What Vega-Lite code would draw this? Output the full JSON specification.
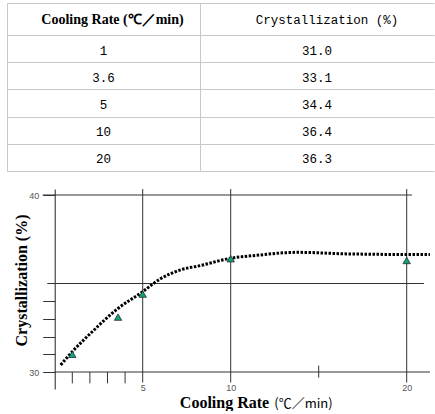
{
  "$schema": "https://vega.github.io/schema/vega-lite/v6.json",
  "background": "white",
  "padding": {"left": 7, "top": 3, "right": 0, "bottom": 0},
  "datasets": {
    "pts": [
      {"rate": 1, "cryst": 31.0},
      {"rate": 3.6, "cryst": 33.1},
      {"rate": 5, "cryst": 34.4},
      {"rate": 10, "cryst": 36.4},
      {"rate": 20, "cryst": 36.3}
    ],
    "curve": [
      {"x": 0.34, "y": 30.40},
      {"x": 1.0, "y": 31.15},
      {"x": 2.19, "y": 32.33},
      {"x": 3.48, "y": 33.50},
      {"x": 5.0, "y": 34.54},
      {"x": 5.98, "y": 35.25},
      {"x": 7.12, "y": 35.76},
      {"x": 8.26, "y": 36.01},
      {"x": 9.97, "y": 36.42},
      {"x": 11.66, "y": 36.61},
      {"x": 12.8, "y": 36.72},
      {"x": 13.82, "y": 36.76},
      {"x": 16.78, "y": 36.67},
      {"x": 20.0, "y": 36.64},
      {"x": 21.32, "y": 36.64}
    ],
    "lines": [
      {"x": 0, "x2": 21.32, "y": 30, "y2": 30},
      {"x": -0.68, "x2": 20.3, "y": 40, "y2": 40},
      {"x": -0.42, "x2": 20.98, "y": 35, "y2": 35},
      {"x": 5, "x2": 5, "y": 29.4, "y2": 40.34},
      {"x": 10, "x2": 10, "y": 29.4, "y2": 40.34},
      {"x": 20, "x2": 20, "y": 29.4, "y2": 40.34},
      {"x": 15, "x2": 15, "y": 29.68, "y2": 30.36},
      {"x": 1, "x2": 1, "y": 29.36, "y2": 30},
      {"x": 2, "x2": 2, "y": 29.36, "y2": 30},
      {"x": 3, "x2": 3, "y": 29.36, "y2": 30},
      {"x": 4, "x2": 4, "y": 29.36, "y2": 30}
    ],
    "head1": [{"h": "Cooling Rate (℃／min)"}],
    "head2": [{"h": "Crystallization (%)"}]
  },
  "config": {"view": {"stroke": null}},
  "spacing": 17,
  "vconcat": [
    {
      "spacing": 0,
      "vconcat": [
        {
          "spacing": 0,
          "hconcat": [
            {
              "width": 193, "height": 32,
              "data": {"name": "head1"},
              "mark": {"type": "text", "font": "Liberation Serif", "fontWeight": "bold", "fontSize": 14, "color": "black", "dx": 9, "dy": 1},
              "encoding": {
                "text": {"field": "h"},
                "y": {"field": "h", "type": "nominal", "scale": {"paddingInner": 0, "paddingOuter": 0},
                  "axis": {"title": null, "labels": false, "ticks": false, "domain": true, "domainColor": "#c8c8c8", "grid": true, "gridColor": "#c8c8c8", "tickBand": "extent"}}
              }
            },
            {
              "width": 234, "height": 32,
              "data": {"name": "head2"},
              "mark": {"type": "text", "font": "Liberation Mono", "fontSize": 12.5, "color": "black", "dx": 10, "dy": 1},
              "encoding": {
                "text": {"field": "h"},
                "y": {"field": "h", "type": "nominal", "scale": {"paddingInner": 0, "paddingOuter": 0},
                  "axis": {"title": null, "labels": false, "ticks": false, "domain": true, "domainColor": "#c8c8c8", "grid": true, "gridColor": "#c8c8c8", "tickBand": "extent"}}
              }
            }
          ]
        },
        {
          "spacing": 0,
          "hconcat": [
            {
              "width": 193, "height": 136,
              "data": {"name": "pts"},
              "mark": {"type": "text", "font": "Liberation Mono", "fontSize": 12.5, "color": "black", "dy": 2},
              "encoding": {
                "text": {"field": "rate"},
                "y": {"field": "rate", "type": "ordinal", "scale": {"paddingInner": 0, "paddingOuter": 0},
                  "axis": {"title": null, "labels": false, "ticks": false, "domain": true, "domainColor": "#c8c8c8", "grid": true, "gridColor": "#c8c8c8", "tickBand": "extent"}}
              }
            },
            {
              "width": 234, "height": 136,
              "data": {"name": "pts"},
              "mark": {"type": "text", "font": "Liberation Mono", "fontSize": 12.5, "color": "black", "dy": 2},
              "encoding": {
                "text": {"field": "cryst", "type": "quantitative", "format": ".1f"},
                "y": {"field": "rate", "type": "ordinal", "scale": {"paddingInner": 0, "paddingOuter": 0},
                  "axis": {"title": null, "labels": false, "ticks": false, "domain": true, "domainColor": "#c8c8c8", "grid": true, "gridColor": "#c8c8c8", "tickBand": "extent"}}
              }
            }
          ]
        }
      ]
    },
    {
      "width": 427, "height": 200,
      "resolve": {"axis": {"x": "independent", "y": "independent"}},
      "layer": [
        {
          "data": {"name": "lines"},
          "mark": {"type": "rule", "color": "#333", "strokeWidth": 1},
          "encoding": {
            "x": {"field": "x", "type": "quantitative",
              "scale": {"domain": [-2.71, 21.551], "nice": false, "zero": false},
              "axis": {"orient": "bottom", "offset": -10, "values": [5, 10, 20], "ticks": false, "domain": false, "grid": false,
                "labelFont": "Liberation Sans", "labelFontSize": 9, "labelColor": "#555", "labelPadding": 4, "labelFlush": false,
                "title": "Cooling Rate", "titleFont": "Liberation Serif", "titleFontSize": 16, "titleFontWeight": "bold", "titleColor": "black",
                "titleX": 217, "titleY": 28.7, "titleBaseline": "alphabetic", "titleAlign": "center"}},
            "x2": {"field": "x2"},
            "y": {"field": "y", "type": "quantitative",
              "scale": {"domain": [29.04, 40.339], "nice": false, "zero": false},
              "axis": {"orient": "left", "offset": -47.7, "values": [30, 31, 32, 33, 34, 40],
                "labelExpr": "datum.value == 30 || datum.value == 40 ? datum.label : ''",
                "tickSize": 12, "tickColor": "#333", "domainColor": "#222", "grid": false,
                "labelFont": "Liberation Sans", "labelFontSize": 9, "labelColor": "#555", "labelPadding": 4,
                "title": "Crystallization (%)", "titleFont": "Liberation Serif", "titleFontSize": 16, "titleFontWeight": "bold", "titleColor": "black",
                "titleX": -28.7, "titleY": 91, "titleBaseline": "alphabetic", "titleAngle": -90, "titleAlign": "center"}},
            "y2": {"field": "y2"}
          }
        },
        {
          "data": {"name": "curve"},
          "mark": {"type": "line", "interpolate": "monotone", "color": "black", "strokeWidth": 3, "strokeDash": [2.5, 1.5]},
          "encoding": {
            "x": {"field": "x", "type": "quantitative", "scale": {"domain": [-2.71, 21.551], "nice": false, "zero": false}, "axis": null},
            "y": {"field": "y", "type": "quantitative", "scale": {"domain": [29.04, 40.339], "nice": false, "zero": false}, "axis": null}
          }
        },
        {
          "data": {"name": "pts"},
          "mark": {"type": "point", "shape": "triangle-up", "filled": true, "fill": "#13a07c", "stroke": "#1a1a1a", "strokeWidth": 0.7, "size": 55, "opacity": 1},
          "encoding": {
            "x": {"field": "rate", "type": "quantitative", "scale": {"domain": [-2.71, 21.551], "nice": false, "zero": false},
              "axis": {"orient": "bottom", "offset": -10, "labels": false, "ticks": false, "domain": false, "grid": false,
                "title": "(℃／min)", "titleFont": "Noto Sans CJK KR", "titleFontSize": 13, "titleFontWeight": "normal", "titleColor": "black",
                "titleX": 296, "titleY": 28.7, "titleBaseline": "alphabetic", "titleAlign": "center"}},
            "y": {"field": "cryst", "type": "quantitative", "scale": {"domain": [29.04, 40.339], "nice": false, "zero": false}, "axis": null}
          }
        }
      ]
    }
  ]
}
